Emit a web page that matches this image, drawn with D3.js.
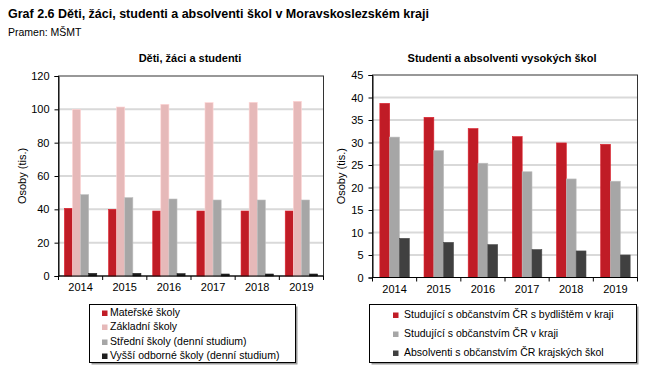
<!DOCTYPE html>
<html><head><meta charset="utf-8">
<script src="https://cdn.jsdelivr.net/npm/d3@7/dist/d3.min.js"></script>
<style>
body{margin:0;background:#fff;}
text{font-family:"Liberation Sans",Arial,sans-serif;fill:#000;}
</style></head>
<body>
<svg id="c" width="659" height="382"></svg>
<script>
const years = ["2014","2015","2016","2017","2018","2019"];
// Left chart (tis.)
const materske = [40.6, 40.0, 39.0, 39.0, 39.0, 39.0];
const zakladni = [100.0, 101.4, 103.0, 104.0, 104.2, 104.8];
const stredni = [48.8, 47.0, 46.2, 45.6, 45.6, 45.6];
const vyssi = [1.6, 1.6, 1.4, 1.2, 1.2, 1.2];
const leftNames = ["Mateřské školy","Základní školy","Střední školy (denní studium)","Vyšší odborné školy (denní studium)"];
const leftColors = ["#c01c26","#e6b9b9","#a6a6a6","#1e1e1e"];
const leftTicks = [0,20,40,60,80,100,120];
// Right chart (tis.)
const studBydliste = [38.7, 35.6, 33.1, 31.3, 29.9, 29.6];
const studKraj = [31.2, 28.2, 25.4, 23.5, 21.9, 21.4];
const absolventi = [8.7, 7.8, 7.3, 6.2, 5.9, 5.0];
const rightNames = ["Studující s občanstvím ČR s bydlištěm v kraji","Studující s občanstvím ČR v kraji","Absolventi s občanstvím ČR krajských škol"];
const rightColors = ["#c01c26","#a6a6a6","#404040"];
const rightTicks = [0,5,10,15,20,25,30,35,40,45];

const svg = d3.select("#c");

svg.append("text").attr("x",8).attr("y",18).attr("font-size","12.5px").attr("font-weight","bold")
  .text("Graf 2.6 Děti, žáci, studenti a absolventi škol v Moravskoslezském kraji");
svg.append("text").attr("x",8).attr("y",36).attr("font-size","10.5px").text("Pramen: MŠMT");

function panel(o){
  const g = svg.append("g");
  const x = d3.scaleBand().domain(years).range([o.x0,o.x1]).padding(0);
  const y = d3.scaleLinear().domain([0,o.max]).range([o.y0,o.y1]);
  g.selectAll(".grid").data(o.ticks.filter(t=>t>0 && t<o.max)).enter().append("line")
    .attr("x1",o.x0).attr("x2",o.x1).attr("y1",d=>y(d)).attr("y2",d=>y(d))
    .attr("stroke","#d9d9d9").attr("stroke-width",2);
  g.append("rect").attr("x",o.x0).attr("y",o.y1).attr("width",o.x1-o.x0).attr("height",o.y0-o.y1)
    .attr("fill","none").attr("stroke","#333").attr("stroke-width",1);
  const n = o.series.length;
  const gw = x.bandwidth()*o.groupFrac;
  const bw = gw/n;
  o.series.forEach((s,i)=>{
    g.selectAll(null).data(s).enter().append("rect")
      .attr("x",(d,j)=>x(years[j])+(x.bandwidth()-gw)/2+i*bw)
      .attr("y",d=>y(d)).attr("width",bw).attr("height",d=>y(0)-y(d))
      .attr("fill",o.colors[i])
      .attr("stroke",d3.color(o.colors[i]).brighter(0.4)).attr("stroke-width",0.6);
  });
  const ya = d3.axisLeft(y).tickValues(o.ticks).tickSize(4).tickPadding(5).tickFormat(d3.format("d"));
  const yg = g.append("g").attr("transform",`translate(${o.x0},0)`).call(ya);
  yg.select(".domain").attr("stroke","#000");
  yg.selectAll("text").attr("font-size","11px").attr("font-family","Liberation Sans, Arial, sans-serif");
  const xg = g.append("g").attr("transform",`translate(0,${o.y0})`);
  xg.append("line").attr("x1",o.x0).attr("x2",o.x1).attr("stroke","#000");
  const bounds = years.map(yy=>x(yy)).concat([o.x1]);
  xg.selectAll(".t").data(bounds).enter().append("line")
    .attr("x1",d=>d).attr("x2",d=>d).attr("y1",0).attr("y2",4).attr("stroke","#000");
  xg.selectAll(".l").data(years).enter().append("text")
    .attr("x",d=>x(d)+x.bandwidth()/2).attr("y",15).attr("text-anchor","middle")
    .attr("font-size","11px").text(d=>d);
  g.append("text").attr("transform",`translate(${o.ytx},${(o.y0+o.y1)/2}) rotate(-90)`)
    .attr("text-anchor","middle").attr("font-size","11px").text("Osoby (tis.)");
  g.append("text").attr("x",o.tx).attr("y",62).attr("text-anchor","middle")
    .attr("font-size","11px").attr("font-weight","bold").text(o.title);
  const L = o.legend;
  g.append("rect").attr("x",L.x+2).attr("y",L.y+2).attr("width",L.w).attr("height",L.h).attr("fill","#9a9a9a");
  g.append("rect").attr("x",L.x).attr("y",L.y).attr("width",L.w).attr("height",L.h).attr("fill","#fff").attr("stroke","#000").attr("stroke-width",1);
  o.names.forEach((nm,i)=>{
    g.append("rect").attr("x",L.mx).attr("y",L.ry[i]-5.5).attr("width",5.5).attr("height",5.5).attr("fill",o.colors[i]);
    g.append("text").attr("x",L.tx).attr("y",L.ry[i]).attr("font-size",L.fs).text(nm);
  });
}

panel({x0:58.5,x1:323.5,y0:276,y1:76,max:120,ticks:leftTicks,
  series:[materske,zakladni,stredni,vyssi],colors:leftColors,names:leftNames,groupFrac:0.733,
  ytx:26,tx:190,title:"Děti, žáci a studenti",
  legend:{x:89.5,y:304.5,w:206,h:58,mx:102,tx:110,ry:[316,330,345,359],fs:"10.5px"}});

panel({x0:372.5,x1:637.5,y0:277.5,y1:75,max:45,ticks:rightTicks,
  series:[studBydliste,studKraj,absolventi],colors:rightColors,names:rightNames,groupFrac:0.667,
  ytx:345,tx:502,title:"Studenti a absolventi vysokých škol",
  legend:{x:369.5,y:304.5,w:267,h:58,mx:393,tx:404,ry:[318,337,356],fs:"10.5px"}});
</script>
</body></html>
